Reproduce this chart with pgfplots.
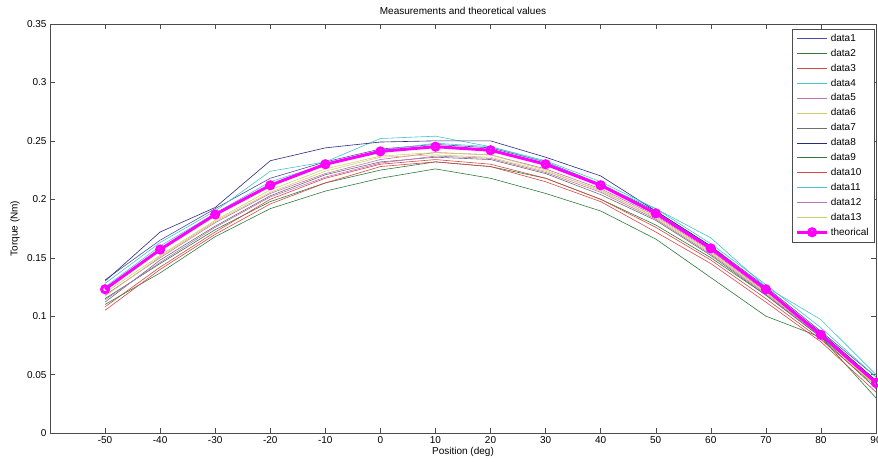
\documentclass[border=0pt]{standalone}
\usepackage{fontspec}
\setmainfont{Liberation Sans}
\usepackage{pgfplots}
\pgfplotsset{compat=1.18}
\usetikzlibrary{calc}
% MATLAB default ColorOrder, slightly washed out as thin lines look
\definecolor{mblue}{HTML}{4A4AA8}
\definecolor{mgreen}{HTML}{2E7D3A}
\definecolor{mred}{HTML}{D84848}
\definecolor{mcyan}{HTML}{48C4CC}
\definecolor{mmag}{HTML}{C070C0}
\definecolor{molive}{HTML}{CFCF6A}
\definecolor{mgray}{HTML}{707070}
\definecolor{mnavy}{HTML}{2A2A80}
\definecolor{theo}{HTML}{FF00FF}
\begin{document}
\begin{tikzpicture}
\begin{axis}[
  name=ax, at={(0,0)}, anchor=south west,
  scale only axis, width=826pt, height=409pt,
  xmin=-60, xmax=90, ymin=0, ymax=0.35,
  xtick={-50,-40,...,90}, ytick={0,0.05,...,0.35},
  tick align=inside, major tick length=5pt,
  axis line style={black!70}, every tick/.style={black!70},
  font=\fontsize{10}{12}\selectfont,
  tick label style={font=\fontsize{10}{12}\selectfont},
  /pgf/number format/assume math mode=true,
  yticklabel style={/pgf/number format/fixed, /pgf/number format/precision=2},
  title={Measurements and theoretical values},
  every axis title/.style={at={(axis description cs:0.5,1)}, yshift=13pt, anchor=center},
  xlabel={Position (deg)}, ylabel={Torque (Nm)},
  every axis x label/.style={at={(axis description cs:0.5,0)}, yshift=-19pt, anchor=center},
  every axis y label/.style={at={(axis description cs:0,0.5)}, xshift=-35pt, rotate=90, anchor=center},
  every axis plot/.append style={line width=0.6pt},
  legend cell align=left,
  legend style={at={(0.9976,0.988)}, anchor=north east, draw=black!70, fill=white,
    font=\fontsize{10}{12}\selectfont, row sep=0pt,
    nodes={text height=8pt, text depth=2.5pt, inner sep=2.2pt}},
  legend image code/.code={\draw[mark repeat=2,mark phase=2,#1]
    plot coordinates {(0pt,0pt) (15pt,0pt) (30pt,0pt)};},
]
\addplot[mblue] coordinates {(-50,0.131)(-40,0.165)(-30,0.192)(-20,0.218)(-10,0.232)(0,0.243)(10,0.247)(20,0.244)(30,0.232)(40,0.213)(50,0.190)(60,0.160)(70,0.125)(80,0.087)(90,0.048)};
\addlegendentry{data1}
\addplot[mgreen] coordinates {(-50,0.115)(-40,0.145)(-30,0.174)(-20,0.198)(-10,0.214)(0,0.225)(10,0.232)(20,0.228)(30,0.218)(40,0.200)(50,0.178)(60,0.150)(70,0.118)(80,0.082)(90,0.038)};
\addlegendentry{data2}
\addplot[mred] coordinates {(-50,0.108)(-40,0.142)(-30,0.172)(-20,0.200)(-10,0.218)(0,0.230)(10,0.234)(20,0.230)(30,0.218)(40,0.200)(50,0.176)(60,0.148)(70,0.115)(80,0.080)(90,0.040)};
\addlegendentry{data3}
\addplot[mcyan] coordinates {(-50,0.128)(-40,0.163)(-30,0.190)(-20,0.224)(-10,0.232)(0,0.252)(10,0.254)(20,0.245)(30,0.232)(40,0.212)(50,0.192)(60,0.167)(70,0.125)(80,0.097)(90,0.050)};
\addlegendentry{data4}
\addplot[mmag] coordinates {(-50,0.118)(-40,0.150)(-30,0.180)(-20,0.205)(-10,0.222)(0,0.234)(10,0.240)(20,0.238)(30,0.226)(40,0.209)(50,0.186)(60,0.156)(70,0.121)(80,0.085)(90,0.045)};
\addlegendentry{data5}
\addplot[molive] coordinates {(-50,0.120)(-40,0.152)(-30,0.182)(-20,0.208)(-10,0.226)(0,0.237)(10,0.240)(20,0.238)(30,0.225)(40,0.207)(50,0.185)(60,0.155)(70,0.120)(80,0.083)(90,0.040)};
\addlegendentry{data6}
\addplot[mgray] coordinates {(-50,0.112)(-40,0.148)(-30,0.177)(-20,0.203)(-10,0.221)(0,0.232)(10,0.236)(20,0.234)(30,0.222)(40,0.204)(50,0.182)(60,0.152)(70,0.118)(80,0.082)(90,0.045)};
\addlegendentry{data7}
\addplot[mnavy] coordinates {(-50,0.130)(-40,0.172)(-30,0.193)(-20,0.233)(-10,0.244)(0,0.249)(10,0.250)(20,0.250)(30,0.236)(40,0.220)(50,0.190)(60,0.160)(70,0.122)(80,0.086)(90,0.045)};
\addlegendentry{data8}
\addplot[mgreen] coordinates {(-50,0.110)(-40,0.137)(-30,0.168)(-20,0.192)(-10,0.207)(0,0.218)(10,0.226)(20,0.218)(30,0.205)(40,0.190)(50,0.166)(60,0.133)(70,0.100)(80,0.082)(90,0.030)};
\addlegendentry{data9}
\addplot[mred] coordinates {(-50,0.105)(-40,0.140)(-30,0.170)(-20,0.196)(-10,0.214)(0,0.228)(10,0.232)(20,0.228)(30,0.215)(40,0.198)(50,0.172)(60,0.145)(70,0.112)(80,0.078)(90,0.035)};
\addlegendentry{data10}
\addplot[mcyan] coordinates {(-50,0.125)(-40,0.160)(-30,0.188)(-20,0.215)(-10,0.230)(0,0.242)(10,0.248)(20,0.245)(30,0.233)(40,0.215)(50,0.192)(60,0.162)(70,0.127)(80,0.090)(90,0.048)};
\addlegendentry{data11}
\addplot[mmag] coordinates {(-50,0.114)(-40,0.146)(-30,0.176)(-20,0.202)(-10,0.219)(0,0.231)(10,0.237)(20,0.235)(30,0.223)(40,0.206)(50,0.183)(60,0.153)(70,0.119)(80,0.083)(90,0.042)};
\addlegendentry{data12}
\addplot[molive] coordinates {(-50,0.117)(-40,0.151)(-30,0.181)(-20,0.206)(-10,0.224)(0,0.236)(10,0.238)(20,0.236)(30,0.224)(40,0.208)(50,0.184)(60,0.154)(70,0.120)(80,0.084)(90,0.041)};
\addlegendentry{data13}
\addplot[theo, line width=3pt, mark=o, mark size=3.5pt, mark options={line width=3pt}] coordinates {(-50,0.123)(-40,0.157)(-30,0.187)(-20,0.212)(-10,0.230)(0,0.241)(10,0.245)(20,0.242)(30,0.230)(40,0.212)(50,0.188)(60,0.158)(70,0.123)(80,0.084)(90,0.043)};
\addlegendentry{theorical}
\end{axis}
\pgfresetboundingbox
\path[use as bounding box] ($(ax.south west)+(-50pt,-28pt)$) rectangle ($(ax.north east)+(2pt,24pt)$);
\end{tikzpicture}
\end{document}
